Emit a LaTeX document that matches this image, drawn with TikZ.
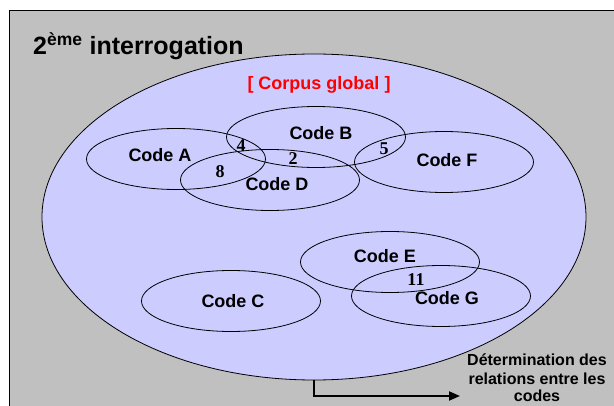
\documentclass[tikz,border=0pt]{standalone}
\usepackage{fontspec}
\setmainfont{Liberation Sans}
\newfontfamily\numfont{Liberation Serif}
\usetikzlibrary{shapes.geometric,arrows.meta}
\definecolor{bggray}{HTML}{C0C0C0}
\definecolor{corpusfill}{HTML}{CCCCFF}
\definecolor{corpusred}{HTML}{FF0000}
\begin{document}
\begin{tikzpicture}[x=1pt,y=-1pt,
  codeellipse/.style={draw=black,line width=0.8pt,ellipse,minimum width=179pt,minimum height=61pt,inner sep=0pt},
  codelabel/.style={font=\bfseries\fontsize{18}{21}\selectfont,anchor=base,inner sep=0pt},
  countlabel/.style={font=\numfont\bfseries\fontsize{18}{20}\selectfont,anchor=base,inner sep=0pt},
  notelabel/.style={font=\bfseries\fontsize{16}{19}\selectfont,anchor=base,inner sep=0pt}]
\clip (0,0) rectangle (614,406);
% background panel
\fill[bggray] (9,10) rectangle (620,420);
\draw[line width=0.9pt] (9,420) -- (9,10) -- (620,10);
% title
\node[anchor=base west,inner sep=0pt,font=\bfseries\fontsize{25}{30}\selectfont] (title) at (33,55) {2\textsuperscript{ème} interrogation};
% global corpus
\node[ellipse,draw=black,line width=0.8pt,fill=corpusfill,minimum width=544pt,minimum height=326pt,inner sep=0pt] (corpus) at (314,217) {};
\node[anchor=base,inner sep=0pt,text=corpusred,font=\bfseries\fontsize{18}{21}\selectfont] (corpuslabel) at (319,90) {[ Corpus global ]};
% code ellipses
\node[codeellipse] (ea) at (176,159) {};
\node[codeellipse] (eb) at (316,137) {};
\node[codeellipse] (ed) at (270,180) {};
\node[codeellipse] (ef) at (444,162) {};
\node[codeellipse] (ec) at (231,301) {};
\node[codeellipse] (ee) at (390,262) {};
\node[codeellipse] (eg) at (441,296) {};
% code labels
\node[codelabel] (la) at (160,162) {Code A};
\node[codelabel] (lb) at (321,140) {Code B};
\node[codelabel] (ld) at (277,191) {Code D};
\node[codelabel] (lf) at (447,167) {Code F};
\node[codelabel] (lc) at (233,308) {Code C};
\node[codelabel] (le) at (385,263) {Code E};
\node[codelabel] (lg) at (447,305) {Code G};
% counts
\node[countlabel] (n4) at (241,152) {4};
\node[countlabel] (n8) at (220,178) {8};
\node[countlabel] (n2) at (293,165) {2};
\node[countlabel] (n5) at (384,155) {5};
\node[countlabel] (n11) at (416,286) {11};
% arrow and note
\coordinate (arrowend) at (460,396);
\draw[line width=2pt,-{Triangle[length=11pt,width=9pt]}] (corpus.south) |- (arrowend);
\node[notelabel] (note1) at (537,366) {Détermination des};
\node[notelabel] (note2) at (537,385) {relations entre les};
\node[notelabel] (note3) at (537,402) {codes};
\end{tikzpicture}
\end{document}
